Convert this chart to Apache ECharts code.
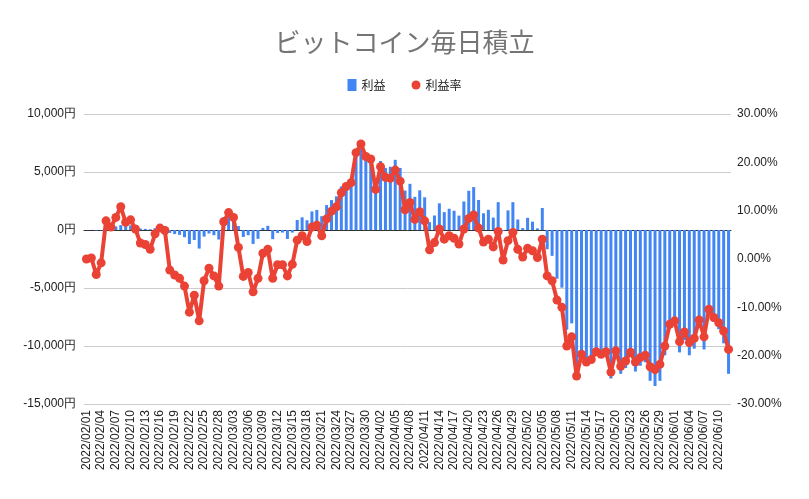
<!DOCTYPE html>
<html><head><meta charset="utf-8">
<script src="https://cdn.jsdelivr.net/npm/echarts@6/dist/echarts.min.js"></script>
<style>html,body{margin:0;padding:0;background:#fff}#c{width:809px;height:499px}</style>
</head><body><div id="c"></div>
<script>
const categories = [
"2022/02/01","2022/02/02","2022/02/03","2022/02/04","2022/02/05","2022/02/06","2022/02/07","2022/02/08","2022/02/09","2022/02/10",
"2022/02/11","2022/02/12","2022/02/13","2022/02/14","2022/02/15","2022/02/16","2022/02/17","2022/02/18","2022/02/19","2022/02/20",
"2022/02/21","2022/02/22","2022/02/23","2022/02/24","2022/02/25","2022/02/26","2022/02/27","2022/02/28",
"2022/03/01","2022/03/02","2022/03/03","2022/03/04","2022/03/05","2022/03/06","2022/03/07","2022/03/08","2022/03/09","2022/03/10",
"2022/03/11","2022/03/12","2022/03/13","2022/03/14","2022/03/15","2022/03/16","2022/03/17","2022/03/18","2022/03/19","2022/03/20",
"2022/03/21","2022/03/22","2022/03/23","2022/03/24","2022/03/25","2022/03/26","2022/03/27","2022/03/28","2022/03/29","2022/03/30","2022/03/31",
"2022/04/01","2022/04/02","2022/04/03","2022/04/04","2022/04/05","2022/04/06","2022/04/07","2022/04/08","2022/04/09","2022/04/10",
"2022/04/11","2022/04/12","2022/04/13","2022/04/14","2022/04/15","2022/04/16","2022/04/17","2022/04/18","2022/04/19","2022/04/20",
"2022/04/21","2022/04/22","2022/04/23","2022/04/24","2022/04/25","2022/04/26","2022/04/27","2022/04/28","2022/04/29","2022/04/30",
"2022/05/01","2022/05/02","2022/05/03","2022/05/04","2022/05/05","2022/05/06","2022/05/07","2022/05/08","2022/05/09","2022/05/10",
"2022/05/11","2022/05/12","2022/05/13","2022/05/14","2022/05/15","2022/05/16","2022/05/17","2022/05/18","2022/05/19","2022/05/20",
"2022/05/21","2022/05/22","2022/05/23","2022/05/24","2022/05/25","2022/05/26","2022/05/27","2022/05/28","2022/05/29","2022/05/30","2022/05/31",
"2022/06/01","2022/06/02","2022/06/03","2022/06/04","2022/06/05","2022/06/06","2022/06/07","2022/06/08","2022/06/09","2022/06/10",
"2022/06/11","2022/06/12"
];
const profit = [
0,5,-50,-20,200,200,300,420,340,400,
330,130,100,60,150,350,340,-250,-350,-420,
-620,-1210,-860,-1600,-570,-300,-450,-820,
1100,1550,1200,340,-600,-450,-1200,-760,180,360,
-790,-260,-220,-770,-220,860,1090,840,1600,1730,
1190,2150,2580,2900,3750,4100,4330,6450,7050,6170,6080,
4000,5950,5350,5450,6050,5350,3400,3980,2860,3420,
2820,680,1250,2300,1540,1830,1660,1240,2460,3380,
3700,2590,1440,1740,1070,2400,-90,1690,2400,900,
160,1050,720,140,1900,-1660,-2230,-4200,-4970,-8600,
-8050,-12600,-10500,-11250,-11000,-10300,-10600,-10400,-12800,-10600,
-12400,-11900,-10900,-12200,-11700,-11400,-13000,-13450,-13000,-10800,-8200,
-8000,-10550,-9500,-10800,-10230,-8200,-10300,-6900,-7900,-8550,
-9770,-12400
];
const profitRate = [
0.0,0.2,-3.2,-0.8,7.9,6.6,8.6,10.8,7.6,8.1,
6.2,3.3,3.0,2.0,5.2,6.4,5.9,-2.3,-3.3,-4.0,
-5.6,-11.0,-7.5,-12.8,-4.5,-1.9,-3.5,-5.6,
7.7,9.6,8.6,2.4,-3.6,-2.8,-6.8,-4.0,1.2,2.0,
-4.0,-1.2,-1.2,-3.5,-1.1,3.9,4.8,3.6,6.6,7.0,
4.8,8.3,9.9,10.8,13.7,15.0,15.8,22.0,23.8,21.2,20.7,
14.4,19.1,16.9,16.7,18.4,16.1,10.2,11.7,8.2,9.8,
7.9,1.9,3.4,6.2,4.1,4.8,4.3,3.1,6.2,8.4,
9.1,6.4,3.5,4.1,2.5,5.7,-0.2,3.8,5.5,2.0,
0.4,2.2,1.7,0.3,4.1,-3.5,-4.5,-8.5,-10.0,-18.0,
-16.1,-24.2,-19.7,-21.3,-20.8,-19.2,-19.7,-19.2,-23.4,-19.0,
-22.2,-21.1,-19.3,-21.3,-20.4,-19.9,-22.3,-22.9,-21.8,-18.0,-13.5,
-12.8,-17.1,-15.1,-17.3,-16.4,-12.6,-16.1,-10.4,-12.1,-13.2,
-14.9,-18.7
];
const leftTicks = {min:-15000, max:10000, interval:5000};
const rightTicks = {min:-30, max:30, interval:10};

const chart = echarts.init(document.getElementById('c'), null, {renderer:'canvas'});
const labelFont = 'Arial, "Liberation Sans", sans-serif';
chart.setOption({
  animation:false,
  backgroundColor:'#ffffff',
  title:{text:'ビットコイン毎日積立', left:'center', top:24,
    textStyle:{fontFamily:'"Noto Sans CJK JP", sans-serif', fontSize:26, fontWeight:'normal', color:'#757575'}},
  legend:{top:74, left:'center', itemGap:26, itemWidth:9, itemHeight:12,
    textStyle:{fontFamily:'"Noto Sans CJK JP", sans-serif', fontSize:12, color:'#222'},
    data:[{name:'利益', icon:'rect'},{name:'利益率', icon:'circle'}]},
  grid:{left:84, right:78, top:114, bottom:95, containLabel:false},
  xAxis:{type:'category', data:categories,
    axisLine:{show:true, onZero:true, lineStyle:{color:'#333', width:1}},
    axisTick:{show:false},
    axisLabel:{interval:2, rotate:90, fontFamily:labelFont, fontSize:12, color:'#222', margin:6}},
  yAxis:[
    {type:'value', min:leftTicks.min, max:leftTicks.max, interval:leftTicks.interval,
      axisLine:{show:false}, axisTick:{show:false},
      splitLine:{lineStyle:{color:'#cccccc'}},
      axisLabel:{fontFamily:labelFont, fontSize:12, color:'#222', margin:8,
        formatter:v=>v.toLocaleString('en-US')+'円'}},
    {type:'value', min:rightTicks.min, max:rightTicks.max, interval:rightTicks.interval,
      axisLine:{show:false}, axisTick:{show:false}, splitLine:{show:false},
      axisLabel:{fontFamily:labelFont, fontSize:12, color:'#222', margin:6,
        formatter:v=>v.toFixed(2)+'%'}}
  ],
  series:[
    {name:'利益', type:'bar', data:profit, yAxisIndex:0, barWidth:3,
      itemStyle:{color:'#4285F4'}},
    {name:'利益率', type:'line', data:profitRate, yAxisIndex:1,
      symbol:'circle', symbolSize:9, showAllSymbol:true,
      lineStyle:{color:'#EA4335', width:4}, itemStyle:{color:'#EA4335'}}
  ]
});
</script>
</body></html>
